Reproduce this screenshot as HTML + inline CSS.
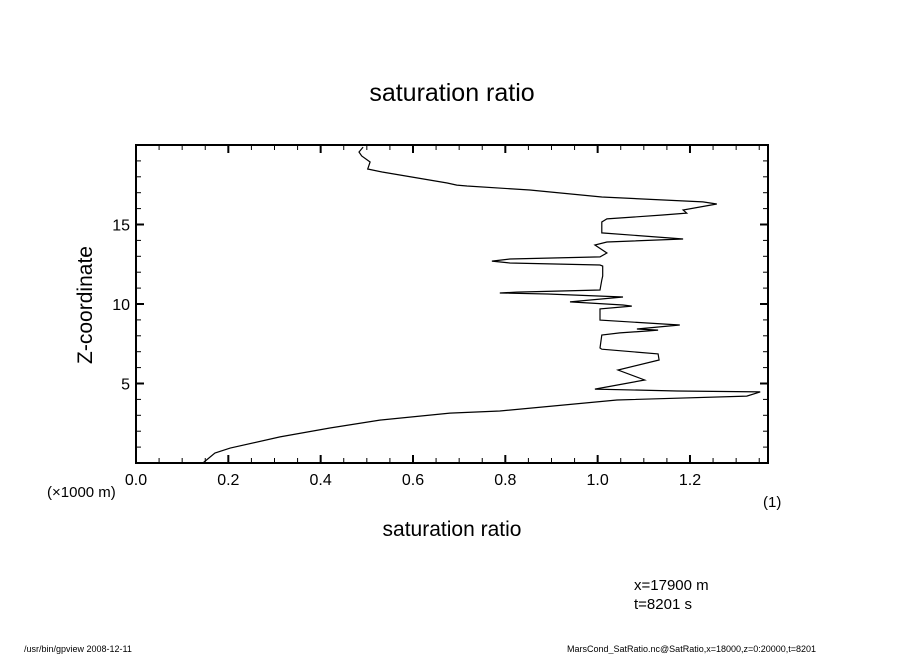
<!DOCTYPE html>
<html><head><meta charset="utf-8"><style>
body{margin:0;background:#fff;width:904px;height:654px;overflow:hidden}
svg{display:block;font-family:"Liberation Sans",sans-serif}
</style></head><body>
<svg id="chart" width="904" height="654" viewBox="0 0 904 654">
<text x="452" y="101" text-anchor="middle" font-size="25">saturation ratio</text>
<text x="452" y="536" text-anchor="middle" font-size="21">saturation ratio</text>
<text transform="translate(92,305) rotate(-90)" text-anchor="middle" font-size="21">Z-coordinate</text>
<text x="47" y="497" font-size="15">(×1000 m)</text>
<text x="763" y="507" font-size="15">(1)</text>
<text x="634" y="590" font-size="15">x=17900 m</text>
<text x="634" y="609" font-size="15">t=8201 s</text>
<text x="24" y="652" font-size="9">/usr/bin/gpview   2008-12-11</text>
<text x="567" y="652" font-size="9">MarsCond_SatRatio.nc@SatRatio,x=18000,z=0:20000,t=8201</text>
<g id="axes"></g>
<g id="series"></g>
</svg>
<script>
const satValues=[0.492,0.483,0.489,0.507,0.502,0.533,0.674,0.695,0.717,0.853,1.009,1.228,1.258,1.185,1.193,1.141,1.020,1.009,1.009,1.157,1.185,1.020,0.994,1.020,1.005,0.810,0.771,0.810,1.005,1.011,1.011,1.009,1.005,0.825,0.788,0.892,1.055,0.940,1.055,1.074,1.005,1.005,1.005,1.178,1.085,1.131,1.107,1.048,1.009,1.005,1.009,1.131,1.133,1.044,1.102,0.994,1.172,1.352,1.323,1.042,0.788,0.680,0.528,0.420,0.312,0.204,0.171,0.145];
const zValues=[19.87,19.56,19.31,18.93,18.49,18.30,17.61,17.48,17.42,17.17,16.73,16.42,16.29,15.91,15.72,15.60,15.35,15.16,14.47,14.15,14.09,13.90,13.71,13.21,12.96,12.83,12.70,12.58,12.45,12.39,11.76,11.51,10.88,10.75,10.69,10.63,10.44,10.13,9.94,9.87,9.69,9.62,8.99,8.68,8.43,8.36,8.30,8.18,8.05,7.23,7.16,6.86,6.48,5.85,5.22,4.65,4.53,4.47,4.21,3.96,3.27,3.14,2.70,2.20,1.64,0.94,0.63,0.0];
const xTickLabels=["0.0","0.2","0.4","0.6","0.8","1.0","1.2"];
const yTickLabels=["5","10","15"];
const X0=136,X1=768,Y0=463,Y1=145,XMAX=1.369,ZMAX=20;
const sx=v=>X0+v/XMAX*(X1-X0);
const sy=v=>Y0-v/ZMAX*(Y0-Y1);
const NS="http://www.w3.org/2000/svg";
const axes=document.getElementById('axes');
function ln(x1,y1,x2,y2,w){const l=document.createElementNS(NS,'line');l.setAttribute('x1',x1);l.setAttribute('y1',y1);l.setAttribute('x2',x2);l.setAttribute('y2',y2);l.setAttribute('stroke','#000');l.setAttribute('stroke-width',w);return l;}
const frame=document.createElementNS(NS,'rect');
frame.setAttribute('x',X0);frame.setAttribute('y',Y1);frame.setAttribute('width',X1-X0);frame.setAttribute('height',Y0-Y1);
frame.setAttribute('fill','none');frame.setAttribute('stroke','#000');frame.setAttribute('stroke-width','2');


axes.appendChild(frame);
for(let i=0;i*0.05<=XMAX+1e-9;i++){
  const v=i*0.05,x=sx(v),maj=i%4===0,L=maj?8:5;
  const t1=ln(x,Y0,x,Y0-L,maj?2:1);
  
  
  axes.appendChild(t1);
  const t2=ln(x,Y1,x,Y1+L,maj?2:1);
  
  
  axes.appendChild(t2);
}
xTickLabels.forEach(s=>{
  const t=document.createElementNS(NS,'text');
  t.setAttribute('x',sx(parseFloat(s)));t.setAttribute('y',Y0+22);t.setAttribute('text-anchor','middle');t.setAttribute('font-size','16');
  t.textContent=s;
  
  
  axes.appendChild(t);
});
for(let i=1;i<ZMAX;i++){
  const y=sy(i),maj=i%5===0,L=maj?8:5;
  const t1=ln(X0,y,X0+L,y,maj?2:1);
  
  
  axes.appendChild(t1);
  const t2=ln(X1,y,X1-L,y,maj?2:1);
  
  
  axes.appendChild(t2);
}
yTickLabels.forEach(s=>{
  const t=document.createElementNS(NS,'text');
  t.setAttribute('x',X0-6);t.setAttribute('y',sy(parseFloat(s))+6);t.setAttribute('text-anchor','end');t.setAttribute('font-size','16');
  t.textContent=s;
  
  
  axes.appendChild(t);
});
const p=document.createElementNS(NS,'polyline');
p.setAttribute('points',satValues.map((v,i)=>sx(v).toFixed(1)+','+sy(zValues[i]).toFixed(1)).join(' '));
p.setAttribute('fill','none');p.setAttribute('stroke','#000');p.setAttribute('stroke-width','1.2');


document.getElementById('series').appendChild(p);
</script>
</body></html>
